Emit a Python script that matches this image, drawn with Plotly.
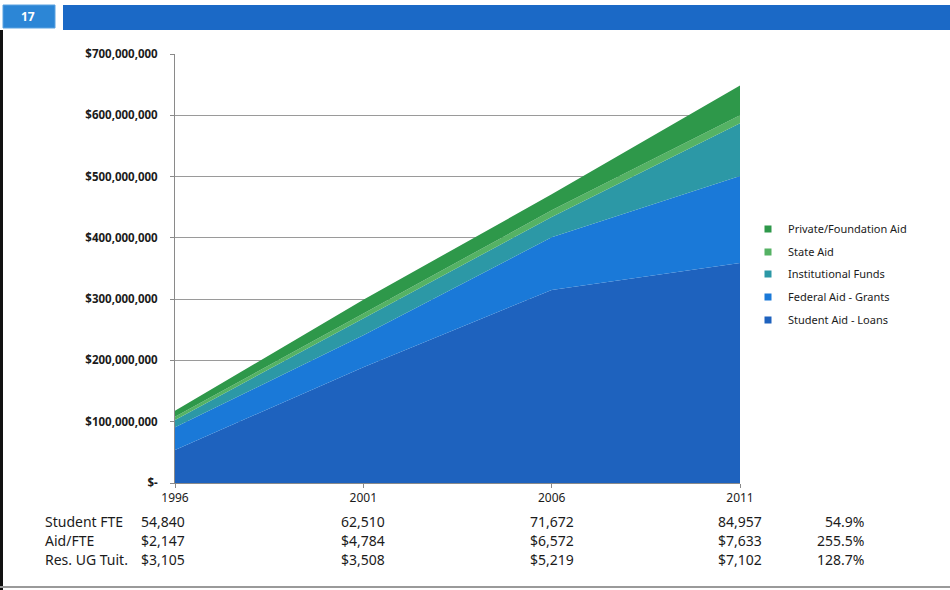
import plotly.graph_objects as go

# ---- data -------------------------------------------------------------
years = [1996, 2001, 2006, 2011]

student_loans = [54e6, 189e6, 315e6, 359e6]
federal_grants = [37e6, 52e6, 86e6, 142e6]
institutional = [12e6, 27e6, 33e6, 86e6]
state_aid = [5e6, 9e6, 11e6, 13e6]
private_aid = [9.7e6, 22e6, 26e6, 48.5e6]

series_names = [
    "Student Aid - Loans",
    "Federal Aid - Grants",
    "Institutional Funds",
    "State Aid",
    "Private/Foundation Aid",
]
series_values = [student_loans, federal_grants, institutional, state_aid, private_aid]
series_colors = ["#1E62BE", "#1A79D8", "#2C98A6", "#55B264", "#2E984A"]

y_tick_vals = [0, 100e6, 200e6, 300e6, 400e6, 500e6, 600e6, 700e6]
y_tick_text = ["$-", "$100,000,000", "$200,000,000", "$300,000,000",
               "$400,000,000", "$500,000,000", "$600,000,000", "$700,000,000"]

row_labels = ["Student FTE", "Aid/FTE", "Res. UG Tuit."]
student_fte = ["54,840", "62,510", "71,672", "84,957"]
aid_per_fte = ["$2,147", "$4,784", "$6,572", "$7,633"]
res_ug_tuition = ["$3,105", "$3,508", "$5,219", "$7,102"]
pct_change = ["54.9%", "255.5%", "128.7%"]
slide_number = "17"

# ---- page geometry ----------------------------------------------------
W, H = 950, 590
PL, PR, PT, PB = 175, 740, 54, 483


def px_x(p):
    return (p - PL) / (PR - PL)


def px_y(p):
    return (PB - p) / (PB - PT)


FONT = "Noto Sans"
TXT = "#1b1b1b"

fig = go.Figure()

for name, vals, col in zip(series_names, series_values, series_colors):
    fig.add_trace(go.Scatter(
        x=years, y=vals, name=name, mode="lines", stackgroup="aid",
        line=dict(width=0, color=col), fillcolor=col,
        showlegend=False, hoverinfo="x+y+name",
    ))

# one small legend per series so the rows can be spaced freely
legend_rows_y = [320, 297, 274, 252, 229]   # centre of each legend row
legend_layouts = {}
for k, (name, col, ly) in enumerate(zip(series_names, series_colors, legend_rows_y)):
    key = "legend" if k == 0 else f"legend{k + 1}"
    fig.add_trace(go.Scatter(
        x=[None], y=[None], name=name, mode="markers",
        marker=dict(symbol="square", size=7, color=col),
        legend=key,
    ))
    legend_layouts[key] = dict(
        x=px_x(748), y=px_y(ly), xanchor="left", yanchor="middle",
        font=dict(family=FONT, size=11, color=TXT),
        bgcolor="rgba(0,0,0,0)", itemwidth=30,
    )

# ---- header bar, frame lines -----------------------------------------
shapes = [
    dict(type="rect", xref="paper", yref="paper",
         x0=px_x(3), x1=px_x(55), y0=px_y(28), y1=px_y(5),
         fillcolor="#2C86D6", line=dict(color="#5AA2E0", width=1), layer="above"),
    dict(type="rect", xref="paper", yref="paper",
         x0=px_x(63), x1=px_x(950), y0=px_y(30), y1=px_y(5),
         fillcolor="#1B69C6", line=dict(width=0), layer="above"),
    dict(type="line", xref="paper", yref="paper",
         x0=px_x(1.5), x1=px_x(1.5), y0=px_y(30), y1=px_y(590),
         line=dict(color="#111111", width=3), layer="above"),
    dict(type="line", xref="paper", yref="paper",
         x0=px_x(0), x1=px_x(950), y0=px_y(587), y1=px_y(587),
         line=dict(color="#9a9a9a", width=2), layer="above"),
]

annotations = [
    dict(text="<b>" + slide_number + "</b>", xref="paper", yref="paper",
         x=px_x(28), y=px_y(17), showarrow=False,
         font=dict(family=FONT, size=12, color="white"),
         xanchor="center", yanchor="middle"),
]

# ---- data table below the axis ----------------------------------------
row_y = [521, 540, 559]
rows = [student_fte, aid_per_fte, res_ug_tuition]
for label, ry, vals, pct in zip(row_labels, row_y, rows, pct_change):
    annotations.append(dict(
        text=label, xref="paper", yref="paper", x=px_x(43), y=px_y(ry),
        showarrow=False, xanchor="left", yanchor="middle",
        font=dict(family=FONT, size=14, color=TXT)))
    for i, (yr, v) in enumerate(zip(years, vals)):
        annotations.append(dict(
            text=v, xref="x", yref="paper", x=yr, y=px_y(ry),
            xshift=-12 if i == 0 else 0,
            showarrow=False, xanchor="center", yanchor="middle",
            font=dict(family=FONT, size=14, color=TXT)))
    annotations.append(dict(
        text=pct, xref="paper", yref="paper", x=px_x(866), y=px_y(ry),
        showarrow=False, xanchor="right", yanchor="middle",
        font=dict(family=FONT, size=14, color=TXT)))

fig.update_layout(
    width=W, height=H,
    margin=dict(l=PL, r=W - PR, t=PT, b=H - PB, pad=0),
    paper_bgcolor="white", plot_bgcolor="white",
    font=dict(family=FONT, color=TXT),
    shapes=shapes, annotations=annotations,
    xaxis=dict(
        range=[1996, 2011], tickvals=years, ticktext=[str(y) for y in years],
        showgrid=False, zeroline=False, showline=True, linecolor="#8a8a8a",
        ticks="outside", ticklen=4, tickcolor="#8a8a8a",
        tickfont=dict(family=FONT, size=12, color=TXT),
    ),
    yaxis=dict(
        range=[0, 700e6], tickvals=y_tick_vals, ticktext=y_tick_text,
        showgrid=True, gridcolor="#9a9a9a", gridwidth=1, zeroline=False,
        showline=True, linecolor="#8a8a8a",
        ticks="outside", ticklen=4, tickcolor="#8a8a8a",
        ticklabelstandoff=10,
        tickfont=dict(family=FONT, size=11.5, color=TXT, weight="bold"),
    ),
    **legend_layouts,
)

fig.write_html("out.html")
